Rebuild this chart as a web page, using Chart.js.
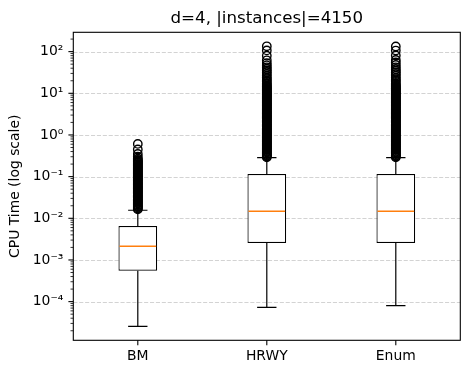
<!DOCTYPE html>
<html><head><meta charset="utf-8">
<script src="https://cdn.jsdelivr.net/npm/chart.js@4.4.1/dist/chart.umd.min.js"></script>
<style>html,body{margin:0;padding:0;background:#fff}#wrap{width:470px;height:374px;position:relative}</style>
</head><body><div id="wrap"><canvas id="c"></canvas></div>
<script>
const title = 'd=4, |instances|=4150';
const yAxisTitle = 'CPU Time (log scale)';
const categories = ['BM', 'HRWY', 'Enum'];
const whiskerLow  = [2.55e-5, 7.3e-5, 8.0e-5];
const q1          = [5.5e-4, 2.55e-3, 2.55e-3];
const medians     = [2.13e-3, 1.47e-2, 1.47e-2];
const q3          = [6.5e-3, 0.116, 0.116];
const whiskerHigh = [0.0156, 0.285, 0.285];
const outliersBM = [0.0165, 0.0172, 0.018, 0.0188, 0.0197, 0.0206, 0.0215, 0.0225, 0.0235, 0.0245,
  0.0256, 0.0268, 0.028, 0.0292, 0.0305, 0.0319, 0.0334, 0.0349, 0.0364, 0.0381, 0.0398, 0.0416,
  0.0434, 0.0454, 0.0474, 0.0496, 0.0518, 0.0541, 0.0566, 0.0591, 0.0618, 0.0646, 0.0675, 0.0705,
  0.0737, 0.077, 0.0805, 0.0841, 0.0879, 0.0918, 0.096, 0.1003, 0.1048, 0.1095, 0.1145, 0.1196,
  0.125, 0.1306, 0.1365, 0.1427, 0.1491, 0.1558, 0.1628, 0.1702, 0.1778, 0.1858, 0.1942, 0.2029,
  0.2121, 0.2216, 0.2316, 0.242, 0.253, 0.27, 0.30, 0.35, 0.45, 0.61];
const outliersHRWY = [0.29, 0.303, 0.317, 0.331, 0.346, 0.361, 0.378, 0.395, 0.412, 0.431, 0.45,
  0.471, 0.492, 0.514, 0.537, 0.561, 0.587, 0.613, 0.641, 0.669, 0.7, 0.731, 0.764, 0.798, 0.834,
  0.872, 0.911, 0.952, 0.995, 1.04, 1.087, 1.136, 1.187, 1.24, 1.296, 1.354, 1.415, 1.479, 1.545,
  1.615, 1.688, 1.764, 1.843, 1.926, 2.013, 2.103, 2.198, 2.297, 2.4, 2.508, 2.621, 2.739, 2.862,
  2.991, 3.126, 3.266, 3.413, 3.567, 3.728, 3.895, 4.071, 4.254, 4.445, 4.645, 4.854, 5.073, 5.301,
  5.54, 5.789, 6.05, 6.322, 6.607, 6.904, 7.215, 7.54, 7.879, 8.233, 8.604, 8.991, 9.396, 9.819,
  10.26, 10.72, 11.2, 11.71, 12.24, 12.79, 13.36, 13.96, 14.59, 15.5, 16.5, 17.5, 19, 20.5, 22,
  24, 26.5, 29, 32, 35, 38.5, 42, 47, 53, 62, 80, 107, 134];
const outliersEnum = [0.291, 0.304, 0.318, 0.332, 0.347, 0.362, 0.379, 0.396, 0.413, 0.432, 0.451,
  0.472, 0.493, 0.515, 0.538, 0.562, 0.588, 0.614, 0.642, 0.67, 0.701, 0.732, 0.765, 0.799, 0.835,
  0.873, 0.912, 0.953, 0.996, 1.041, 1.088, 1.137, 1.188, 1.241, 1.297, 1.355, 1.416, 1.48, 1.546,
  1.616, 1.689, 1.765, 1.844, 1.927, 2.014, 2.104, 2.199, 2.298, 2.401, 2.509, 2.622, 2.74, 2.863,
  2.992, 3.127, 3.267, 3.414, 3.568, 3.729, 3.896, 4.072, 4.255, 4.446, 4.646, 4.855, 5.074, 5.302,
  5.541, 5.79, 6.051, 6.323, 6.608, 6.905, 7.216, 7.541, 7.88, 8.234, 8.605, 8.992, 9.397, 9.82,
  10.25, 10.7, 11.2, 11.7, 12.2, 12.8, 13.3, 13.9, 14.5, 15.3, 16.3, 17.3, 18.8, 20.3, 21.8,
  23.8, 26.2, 28.8, 31.5, 34.5, 38, 42, 48, 55, 63, 81, 106, 133];
const outlierSets = [outliersBM, outliersHRWY, outliersEnum];
const yMajorTicks = [1e-4, 1e-3, 1e-2, 1e-1, 1e0, 1e1, 1e2];
const yTickLabels = ['10\u207B\u2074', '10\u207B\u00B3', '10\u207B\u00B2', '10\u207B\u00B9', '10\u2070', '10\u00B9', '10\u00B2'];
const yMin = 1.18e-5, yMax = 291;

const FONT = 'DejaVu Sans';
Chart.defaults.color = '#000';
Chart.defaults.font.family = FONT;

const boxWidthFrac = 0.3;
const capWidthFrac = 0.15;

const boxPlugin = {
  id: 'boxextras',
  beforeDatasetsDraw(chart) {
    const {ctx, chartArea: a, scales: {x, y}} = chart;
    ctx.save();
    ctx.strokeStyle = 'rgba(176,176,176,0.7)';
    ctx.lineWidth = 0.8;
    ctx.setLineDash([4.1, 1.8]);
    yMajorTicks.forEach(v => {
      const py = Math.round(y.getPixelForValue(v)) + 0.5;
      ctx.beginPath(); ctx.moveTo(a.left, py); ctx.lineTo(a.right, py); ctx.stroke();
    });
    ctx.restore();
    const unit = x.getPixelForValue(1) - x.getPixelForValue(0);
    ctx.save();
    ctx.strokeStyle = '#000'; ctx.lineWidth = 1.2;
    categories.forEach((c, i) => {
      const cx = x.getPixelForValue(i);
      const cap = unit * capWidthFrac / 2;
      const yl = y.getPixelForValue(whiskerLow[i]), yq1 = y.getPixelForValue(q1[i]);
      const yh = y.getPixelForValue(whiskerHigh[i]), yq3 = y.getPixelForValue(q3[i]);
      ctx.beginPath();
      ctx.moveTo(cx, yq1); ctx.lineTo(cx, yl);
      ctx.moveTo(cx - cap, yl); ctx.lineTo(cx + cap, yl);
      ctx.moveTo(cx, yq3); ctx.lineTo(cx, yh);
      ctx.moveTo(cx - cap, yh); ctx.lineTo(cx + cap, yh);
      ctx.stroke();
    });
    ctx.restore();
  },
  afterDatasetDraw(chart, args) {
    if (args.index !== 0) return;
    const {ctx, scales: {x, y}} = chart;
    const unit = x.getPixelForValue(1) - x.getPixelForValue(0);
    ctx.save();
    ctx.strokeStyle = '#ff7f0e'; ctx.lineWidth = 1.4;
    categories.forEach((c, i) => {
      const cx = x.getPixelForValue(i);
      const hw = unit * boxWidthFrac / 2;
      const ym = y.getPixelForValue(medians[i]);
      ctx.beginPath(); ctx.moveTo(cx - hw + 1, ym); ctx.lineTo(cx + hw - 1, ym); ctx.stroke();
    });
    ctx.restore();
  },
  afterDraw(chart) {
    const {ctx, chartArea: a, scales: {x, y}} = chart;
    ctx.save();
    ctx.fillStyle = '#000';
    ctx.font = '16.67px "' + FONT + '"';
    ctx.textAlign = 'center';
    ctx.textBaseline = 'middle';
    ctx.fillText(title, (a.left + a.right) / 2, 18.3);
    ctx.strokeStyle = '#000';
    ctx.lineWidth = 1.1;
    ctx.strokeRect(a.left, a.top, a.right - a.left, a.bottom - a.top);
    yMajorTicks.forEach(v => {
      const py = y.getPixelForValue(v);
      ctx.beginPath(); ctx.moveTo(a.left, py); ctx.lineTo(a.left - 4.9, py); ctx.stroke();
    });
    ctx.lineWidth = 0.8;
    for (let e = -6; e <= 3; e++) {
      for (let m = 2; m <= 9; m++) {
        const v = m * Math.pow(10, e);
        if (v < yMin || v > yMax) continue;
        const py = y.getPixelForValue(v);
        ctx.beginPath(); ctx.moveTo(a.left, py); ctx.lineTo(a.left - 2.8, py); ctx.stroke();
      }
    }
    ctx.lineWidth = 1.1;
    categories.forEach((c, i) => {
      const px = x.getPixelForValue(i);
      ctx.beginPath(); ctx.moveTo(px, a.bottom); ctx.lineTo(px, a.bottom + 4.9); ctx.stroke();
    });
    ctx.restore();
  }
};

const datasets = [{
  type: 'bar',
  data: categories.map((c, i) => [q1[i], q3[i]]),
  backgroundColor: '#fff',
  borderColor: '#000',
  borderWidth: 1.2,
  borderSkipped: false,
  categoryPercentage: 1,
  barPercentage: boxWidthFrac,
  order: 2
}];
outlierSets.forEach((set, i) => {
  datasets.push({
    type: 'line',
    data: set.map(v => ({x: categories[i], y: v})),
    showLine: false,
    pointRadius: 4.2,
    pointBorderWidth: 1.4,
    pointBorderColor: '#000',
    pointBackgroundColor: 'rgba(0,0,0,0)',
    pointHoverRadius: 4.2,
    order: 0
  });
});

new Chart(document.getElementById('c'), {
  type: 'bar',
  data: {labels: categories, datasets},
  plugins: [boxPlugin],
  options: {
    responsive: true,
    maintainAspectRatio: false,
    devicePixelRatio: 1,
    animation: false,
    layout: {padding: {left: 0, right: 9.7, top: 32.3, bottom: 0}},
    plugins: {
      legend: {display: false},
      tooltip: {enabled: false},
      title: {display: false}
    },
    scales: {
      x: {
        type: 'category',
        offset: true,
        grid: {display: false, drawTicks: false},
        border: {display: false},
        ticks: {font: {family: FONT, size: 13.9}, color: '#000', padding: 8, maxRotation: 0},
        afterFit: s => { s.height = 33.7; }
      },
      y: {
        type: 'logarithmic',
        min: yMin, max: yMax,
        bounds: 'data',
        grid: {display: false, drawTicks: false},
        border: {display: false},
        afterBuildTicks: s => { s.ticks = yMajorTicks.map(v => ({value: v})); },
        ticks: {
          autoSkip: false,
          font: {family: FONT, size: 13.9}, color: '#000', padding: 10,
          callback: (v) => { const k = yMajorTicks.findIndex(t => Math.abs(Math.log10(t) - Math.log10(v)) < 1e-6); return k >= 0 ? yTickLabels[k] : ''; }
        },
        title: {display: true, text: yAxisTitle, color: '#000',
          font: {family: FONT, size: 13.9, lineHeight: 1.2}, padding: {top: 7, bottom: 0}},
        afterFit: s => { s.width = 73.3; }
      }
    }
  }
});
</script>
</body></html>
